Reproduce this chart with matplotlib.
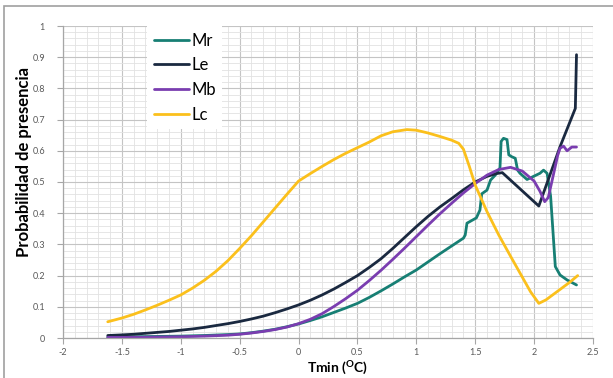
import matplotlib
matplotlib.use("Agg")
import matplotlib.pyplot as plt
from matplotlib.patches import Rectangle
from matplotlib.ticker import MultipleLocator

plt.rcParams['font.family'] = ['Lato', 'DejaVu Sans']

# Presence probability vs minimum temperature, one curve per species
mr_x = [-1.62, -1.4, -1.2, -1.0, -0.8, -0.6, -0.5, -0.4, -0.3, -0.2, -0.1, 0.0,
        0.1, 0.2, 0.3, 0.4, 0.5, 0.6, 0.7, 0.8, 0.9, 1.0, 1.1, 1.2, 1.3, 1.4,
        1.415, 1.43, 1.51, 1.54, 1.555, 1.6, 1.63, 1.67, 1.71, 1.72, 1.74, 1.77,
        1.785, 1.81, 1.84, 1.86, 1.88, 1.94, 2.05, 2.08, 2.11, 2.14, 2.18, 2.22,
        2.28, 2.36]
mr_y = [0.003, 0.004, 0.005, 0.006, 0.008, 0.011, 0.013, 0.017, 0.022, 0.028,
        0.036, 0.045, 0.056, 0.068, 0.082, 0.096, 0.111, 0.130, 0.151, 0.173,
        0.196, 0.218, 0.244, 0.270, 0.295, 0.320, 0.330, 0.368, 0.385, 0.410,
        0.462, 0.474, 0.506, 0.522, 0.545, 0.630, 0.640, 0.636, 0.587, 0.581,
        0.576, 0.538, 0.528, 0.508, 0.528, 0.538, 0.528, 0.455, 0.229, 0.202,
        0.186, 0.170]

le_x = [-1.62, -1.5, -1.4, -1.3, -1.2, -1.1, -1.0, -0.9, -0.8, -0.7, -0.6, -0.5,
        -0.4, -0.3, -0.2, -0.1, 0.0, 0.1, 0.2, 0.3, 0.4, 0.5, 0.6, 0.7, 0.8, 0.9,
        1.0, 1.1, 1.2, 1.3, 1.4, 1.5, 1.6, 1.68, 1.73, 2.04, 2.22, 2.35, 2.36]
le_y = [0.008, 0.010, 0.012, 0.015, 0.018, 0.021, 0.025, 0.029, 0.034, 0.040,
        0.046, 0.053, 0.061, 0.070, 0.081, 0.093, 0.106, 0.121, 0.138, 0.157,
        0.178, 0.200, 0.226, 0.254, 0.287, 0.322, 0.357, 0.390, 0.420, 0.447,
        0.475, 0.500, 0.518, 0.527, 0.530, 0.423, 0.613, 0.736, 0.908]

mb_x = [-1.62, -1.4, -1.2, -1.0, -0.8, -0.6, -0.5, -0.4, -0.3, -0.2, -0.1, 0.0,
        0.1, 0.2, 0.3, 0.4, 0.5, 0.6, 0.7, 0.8, 0.9, 1.0, 1.1, 1.2, 1.3, 1.4,
        1.5, 1.6, 1.7, 1.8, 1.9, 2.0, 2.05, 2.09, 2.12, 2.15, 2.2, 2.22, 2.25,
        2.28, 2.32, 2.36]
mb_y = [0.002, 0.002, 0.003, 0.004, 0.006, 0.009, 0.012, 0.016, 0.021, 0.027,
        0.035, 0.046, 0.060, 0.078, 0.101, 0.126, 0.153, 0.184, 0.217, 0.252,
        0.288, 0.325, 0.362, 0.398, 0.432, 0.465, 0.495, 0.522, 0.540, 0.547,
        0.535, 0.503, 0.470, 0.437, 0.450, 0.500, 0.585, 0.608, 0.615, 0.600,
        0.612, 0.612]

lc_x = [-1.62, -1.5, -1.4, -1.3, -1.2, -1.1, -1.0, -0.9, -0.8, -0.7, -0.6, -0.5,
        -0.4, -0.3, -0.2, -0.1, 0.0, 0.1, 0.2, 0.3, 0.4, 0.5, 0.6, 0.7, 0.8, 0.92,
        1.0, 1.1, 1.2, 1.3, 1.36, 1.40, 1.45, 1.5, 1.6, 1.7, 1.8, 1.9, 1.97, 2.04,
        2.1, 2.2, 2.3, 2.37]
lc_y = [0.052, 0.064, 0.076, 0.090, 0.105, 0.121, 0.138, 0.160, 0.185, 0.214,
        0.248, 0.287, 0.328, 0.372, 0.416, 0.460, 0.503, 0.527, 0.550, 0.572,
        0.592, 0.610, 0.628, 0.648, 0.661, 0.668, 0.666, 0.657, 0.646, 0.634,
        0.624, 0.605, 0.550, 0.490, 0.405, 0.330, 0.262, 0.195, 0.148, 0.111,
        0.122, 0.150, 0.178, 0.200]

series = [
    ("Mr", mr_x, mr_y, "#177f74"),
    ("Le", le_x, le_y, "#1a2940"),
    ("Mb", mb_x, mb_y, "#7a3db0"),
    ("Lc", lc_x, lc_y, "#fbc01c"),
]

fig = plt.figure(figsize=(6.13, 3.78), dpi=100)
ax = fig.add_axes([63 / 613, 1 - 338 / 378, 530 / 613, 312 / 378])

for name, xs, ys, col in series:
    ax.plot(xs, ys, color=col, lw=2.0, label=name,
            solid_joinstyle='round', solid_capstyle='round')

ax.set_xlim(-2, 2.5)
ax.set_ylim(0, 1)
ax.xaxis.set_major_locator(MultipleLocator(0.5))
ax.xaxis.set_minor_locator(MultipleLocator(0.1))
ax.yaxis.set_major_locator(MultipleLocator(0.1))
ax.yaxis.set_minor_locator(MultipleLocator(0.02))
ax.xaxis.set_major_formatter(lambda v, p: f"{v:g}")
ax.yaxis.set_major_formatter(lambda v, p: f"{v:g}")

ax.grid(which='major', color='#c4c4c4', lw=0.8)
ax.grid(which='minor', color='#e2e2e2', lw=0.6)
ax.set_axisbelow(True)

for s in ('top', 'right'):
    ax.spines[s].set_visible(False)
for s in ('left', 'bottom'):
    ax.spines[s].set_color('#a6a6a6')
    ax.spines[s].set_linewidth(0.9)

ax.tick_params(which='major', length=4, color='#a6a6a6', labelsize=6.5,
               labelcolor='#595959')
ax.tick_params(axis='y', pad=9)
ax.tick_params(axis='x', pad=3)
ax.tick_params(which='minor', length=0)

# axis titles
fig.text(338 / 613, 1 - 368 / 378, r"Tmin ($\mathregular{^{O}}$C)", fontsize=10,
         fontweight='bold', ha='center', va='center')
fig.text(24 / 613, 1 - 162 / 378, "Probabilidad de presencia", fontsize=12,
         fontweight='bold', ha='center', va='center', rotation=90)

leg = ax.legend(loc='upper left', bbox_to_anchor=((147 - 63) / 530, 1.0),
                fontsize=12, frameon=True, fancybox=False, framealpha=1,
                edgecolor='none', facecolor='white', handlelength=2.1,
                handletextpad=0.15, labelspacing=0.52, borderpad=0.4,
                borderaxespad=0)

# outer chart frame
fig.add_artist(Rectangle((4 / 613, -0.1), 1.2, 1.1 - 6 / 378,
                         transform=fig.transFigure, fill=False,
                         edgecolor='#a0a0a0', lw=1.2))

fig.savefig("out.png", dpi=100)
